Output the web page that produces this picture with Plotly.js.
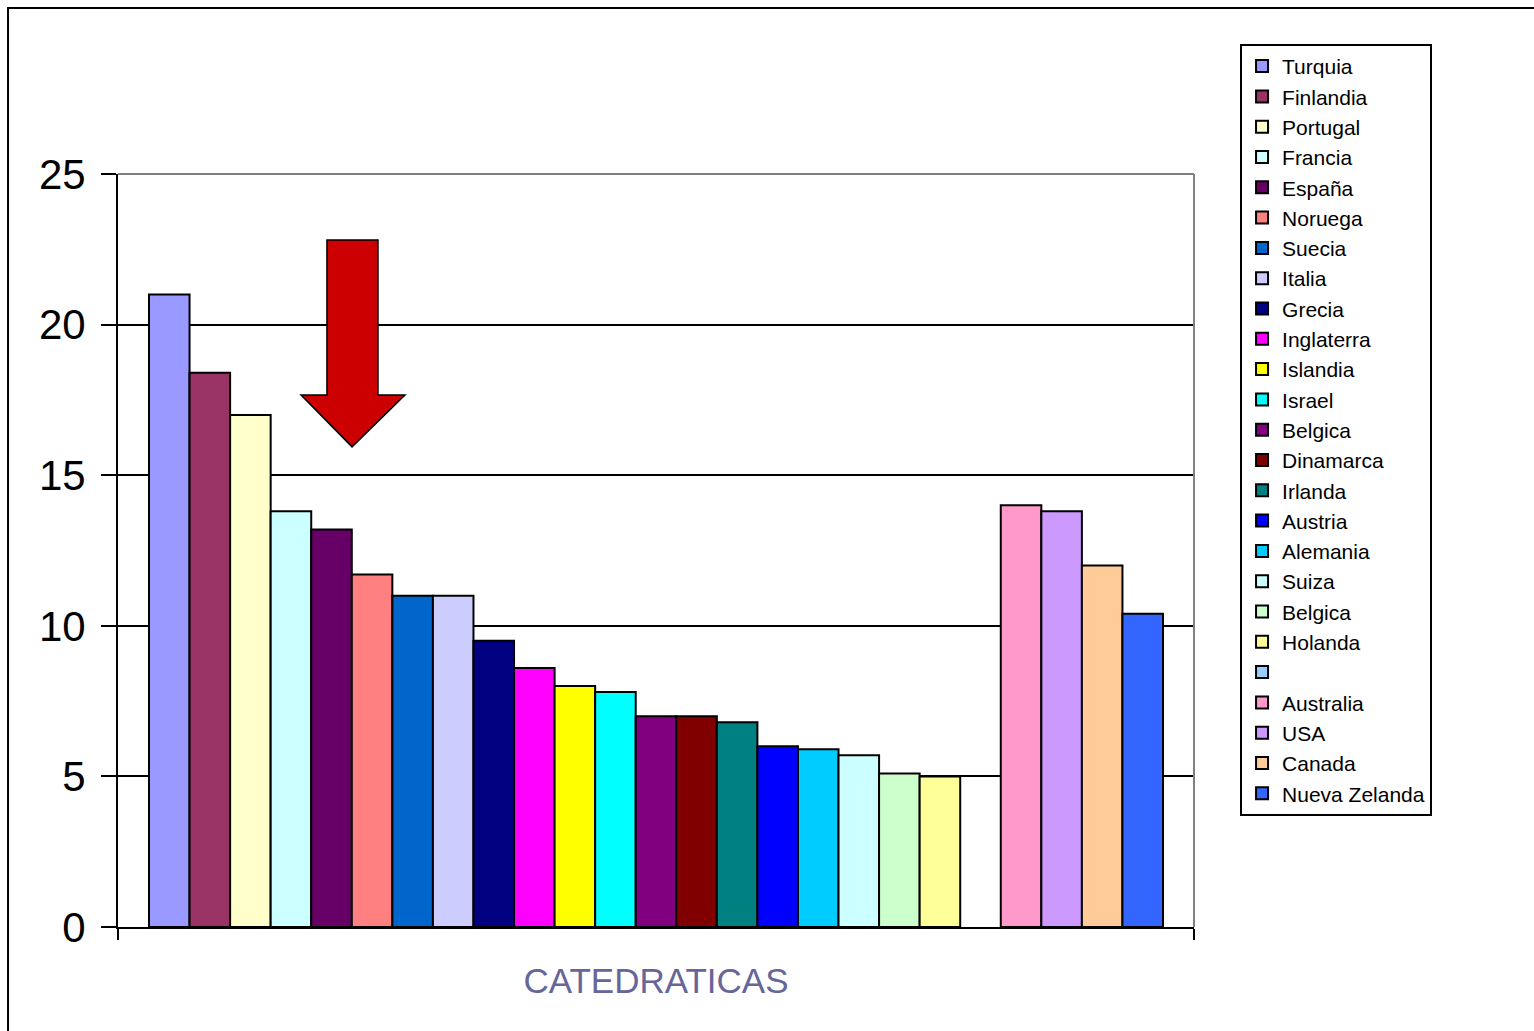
<!DOCTYPE html>
<html>
<head>
<meta charset="utf-8">
<script src="https://cdn.plot.ly/plotly-3.0.1.min.js"></script>
<style>
  html, body { margin: 0; padding: 0; background: #ffffff; }
  #chart { width: 1534px; height: 1031px; }
</style>
</head>
<body>
<div id="chart"></div>
<script>
// ---- data ----
const category = ['CATEDRATICAS'];
const countries = ['Turquia', 'Finlandia', 'Portugal', 'Francia', 'España', 'Noruega', 'Suecia', 'Italia',
  'Grecia', 'Inglaterra', 'Islandia', 'Israel', 'Belgica', 'Dinamarca', 'Irlanda', 'Austria',
  'Alemania', 'Suiza', 'Belgica', 'Holanda', ' ', 'Australia', 'USA', 'Canada', 'Nueva Zelanda'];
const values = [21.0, 18.4, 17.0, 13.8, 13.2, 11.7, 11.0, 11.0,
  9.5, 8.6, 8.0, 7.8, 7.0, 7.0, 6.8, 6.0,
  5.9, 5.7, 5.1, 5.0, null, 14.0, 13.8, 12.0, 10.4];
const colors = ['#9999FF', '#993366', '#FFFFCC', '#CCFFFF', '#660066', '#FF8080', '#0066CC', '#CCCCFF',
  '#000080', '#FF00FF', '#FFFF00', '#00FFFF', '#800080', '#800000', '#008080', '#0000FF',
  '#00CCFF', '#CCFFFF', '#CCFFCC', '#FFFF99', '#99CCFF', '#FF99CC', '#CC99FF', '#FFCC99', '#3366FF'];
const yTicks = [0, 5, 10, 15, 20, 25];

// ---- traces ----
const traces = countries.map((name, i) => ({
  type: 'bar',
  x: category,
  y: [values[i]],
  name: name,
  marker: { color: colors[i], line: { color: '#000000', width: 2 } },
  hoverinfo: 'name+y'
}));

const FONT = 'Arial, "Liberation Sans", sans-serif';

const layout = {
  width: 1534,
  height: 1031,
  margin: { l: 118, r: 340, t: 174, b: 104 },
  paper_bgcolor: '#ffffff',
  plot_bgcolor: '#ffffff',
  font: { family: FONT, color: '#000000' },
  barmode: 'group',
  bargap: 0.0576,
  bargroupgap: 0,
  showlegend: true,
  legend: {
    x: 1.0428, y: 1.1727, xanchor: 'left', yanchor: 'top',
    bgcolor: '#ffffff', bordercolor: '#000000', borderwidth: 2,
    font: { family: FONT, size: 21, color: '#000000' },
    traceorder: 'normal', itemwidth: 30, maxheight: 1
  },
  xaxis: {
    type: 'category',
    range: [-0.5, 0.5],
    showline: true, linecolor: '#000000', linewidth: 2,
    ticks: 'outside', tickson: 'boundaries', ticklen: 11, tickwidth: 2, tickcolor: '#000000',
    tickfont: { family: FONT, size: 35, color: '#666699' },
    ticklabelstandoff: 22,
    showgrid: false, zeroline: false, fixedrange: true
  },
  yaxis: {
    range: [0, 25],
    tickvals: yTicks,
    ticktext: yTicks.map(String),
    showline: true, linecolor: '#000000', linewidth: 2,
    ticks: 'outside', ticklen: 15, tickwidth: 2, tickcolor: '#000000',
    tickfont: { family: FONT, size: 42, color: '#000000' },
    ticklabelstandoff: 7,
    showgrid: true, gridcolor: '#000000', gridwidth: 2,
    zeroline: false, fixedrange: true
  },
  shapes: [
    // plot area border (top & right), grey
    { type: 'line', xref: 'paper', yref: 'paper', x0: 0, x1: 1, y0: 1, y1: 1,
      line: { color: '#808080', width: 2 }, layer: 'above' },
    { type: 'line', xref: 'paper', yref: 'paper', x0: 1, x1: 1, y0: 0, y1: 1,
      line: { color: '#808080', width: 2 }, layer: 'above' },
    // outer chart border
    { type: 'rect', xref: 'paper', yref: 'paper', x0: -0.1022, x1: 1.6, y0: -0.3, y1: 1.2205,
      line: { color: '#000000', width: 2 }, fillcolor: 'rgba(0,0,0,0)', layer: 'below' },
    // red arrow
    { type: 'path', xref: 'paper', yref: 'y',
      path: 'M 0.1942 22.81 L 0.2416 22.81 L 0.2416 17.66 L 0.2667 17.66 L 0.2175 15.94 ' +
            'L 0.1701 17.66 L 0.1942 17.66 Z',
      fillcolor: '#CC0000', line: { color: '#000000', width: 1.5 }, layer: 'above' }
  ]
};

Plotly.newPlot('chart', traces, layout, { displayModeBar: false, staticPlot: true });
</script>
</body>
</html>
